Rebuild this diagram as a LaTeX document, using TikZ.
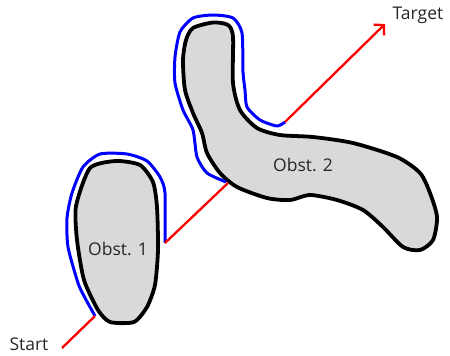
\documentclass[tikz,border=0pt]{standalone}
\usepackage{fontspec}
\setmainfont{Open Sans}
\usetikzlibrary{arrows.meta}
\begin{document}
\begin{tikzpicture}[x=1pt,y=-1pt,
  obst/.style={draw=black,line width=3.8pt,fill=black!15,line join=round},
  bluepath/.style={draw=blue,line width=3pt,line join=round},
  redpath/.style={draw=red,line width=2.3pt},
  lbl/.style={font=\fontsize{17.5}{20}\selectfont,text=black!85,inner sep=0pt}]
\useasboundingbox (0,0) rectangle (450,356);
% obstacle 1
\draw[obst] plot[smooth cycle,tension=0.4] coordinates {
  (90,168) (116,161) (140,165) (153,182) (157,207) (158,250) (155,285)
  (147,307) (134,322) (110,322) (98,310) (84,280) (77,240) (76,206) };
% obstacle 2
\draw[obst] plot[smooth cycle,tension=0.45] coordinates {
  (193,28) (213,22.5) (228,25) (233,37) (233,83) (240,110) (257,128)
  (280,135) (313,137) (353,143) (397,157) (420,173) (430,193) (437,217)
  (433,240) (420,250) (403,247) (383,227) (363,210) (337,200) (310,195)
  (290,200) (267,198) (237,187) (220,173) (207,153) (202,133) (193,113)
  (185,90) (183,60) (186,40) };
% blue paths
\draw[bluepath] plot[smooth,tension=0.4] coordinates {
  (95,316) (84,296) (78,283) (68,247) (67,218) (72,193) (83,167) (100,154)
  (127,154) (147,161) (160,177) (165,193) (165,243) };
\draw[bluepath] plot[smooth,tension=0.4] coordinates {
  (226,182) (207,173) (197,157) (193,130) (183,110) (175,83) (175,57)
  (180,32) (193,18) (213,15) (233,18) (242,33) (243,72) (245,90) (247,107)
  (260,120) (277,126) (285,122) };
% connectors
\coordinate (st) at (62,348);
\coordinate (o1s) at (95,316);
\coordinate (o1e) at (165,243);
\coordinate (o2s) at (228,183);
\coordinate (o2e) at (285,122);
\coordinate (tg) at (385,24);
\draw[redpath] (st) -- (o1s);
\draw[redpath] (o1e) -- (o2s);
\draw[redpath,-{Straight Barb[length=7pt,width=15pt,line width=2.3pt]}] (o2e) -- (tg);
% labels
\node[lbl] (start) at (29,344) {Start};
\node[lbl] (target) at (418,15) {Target};
\node[lbl] (ob1) at (118,249) {Obst. 1};
\node[lbl] (ob2) at (303,165) {Obst. 2};
\end{tikzpicture}
\end{document}
